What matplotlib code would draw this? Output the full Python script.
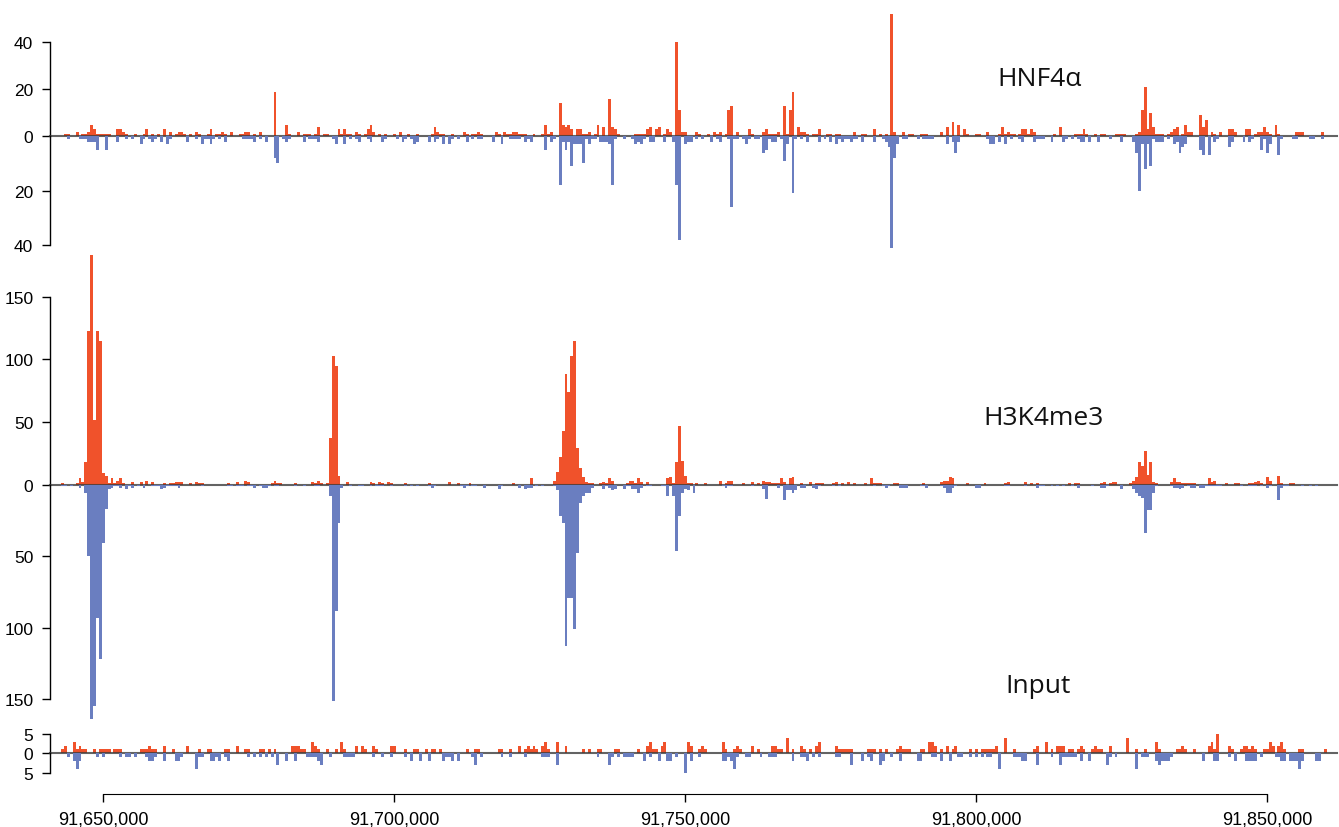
import numpy as np
import matplotlib
matplotlib.use("Agg")
import matplotlib.pyplot as plt
from matplotlib.ticker import FuncFormatter

W, H, DPI = 1339, 828, 100
START = 91_642_750
BIN = 500
NBINS = 435

# ---- read counts per 500-bp bin (bin index : count) ----
HNF_POS = {1:1, 2:1, 5:2, 7:1, 8:1, 9:2, 10:5, 11:3, 12:1, 13:1, 14:1, 15:1, 16:1, 19:3, 20:3, 21:2, 22:1, 25:1, 28:1, 29:3,
           31:1, 33:1, 35:3, 37:2, 39:1, 40:2, 41:2, 42:1, 44:1, 46:2, 47:1, 50:1, 51:3, 53:1, 54:1, 55:2, 56:1, 58:2, 61:1,
           62:1, 63:2, 64:2, 66:1, 68:2, 73:19, 77:5, 78:1, 81:2, 83:1, 84:1, 85:1, 87:1, 88:4, 90:1, 91:1, 95:3, 96:1, 97:3,
           98:1, 99:1, 101:2, 102:1, 104:1, 105:3, 106:5, 107:2, 109:1, 111:1, 114:1, 116:2, 119:1, 122:1, 127:1, 128:4,
           129:2, 130:1, 131:1, 134:1, 138:2, 139:1, 141:1, 142:1, 143:2, 144:1,
           149:2, 150:1, 152:2, 153:1, 154:1, 155:2, 156:2, 157:1, 158:1, 159:1, 162:1, 165:1, 166:5, 167:1, 168:2, 171:14,
           172:5, 173:4, 174:5, 175:3, 177:3, 178:3, 179:1, 180:1, 181:2, 183:1, 184:5, 186:4, 188:16, 189:4, 190:3, 191:1,
           197:1, 198:1, 199:1, 200:1, 201:3, 202:4, 204:3, 205:4, 207:1, 208:3, 209:2, 211:40, 212:11, 213:2, 214:2, 218:2,
           219:1, 222:1, 224:2, 225:1, 226:2, 228:1, 229:11, 230:13, 232:2, 236:3, 237:1, 241:2, 242:3, 243:1, 244:1, 245:1,
           246:2, 248:13, 249:1, 250:11, 251:19, 253:4, 254:2, 255:2, 256:1, 258:1, 259:1, 260:3, 263:1, 264:1, 266:1, 267:1,
           272:2, 275:1, 276:1, 279:3, 281:1, 283:1, 285:52, 286:2, 289:2, 291:1, 292:1, 295:1, 296:1, 297:1,
           302:2, 304:4, 306:6, 308:5, 310:3, 311:1, 314:1, 315:1, 318:2, 322:1, 323:4, 324:1, 325:2, 326:1, 327:1, 329:1,
           330:3, 331:3, 332:1, 333:3, 334:2, 341:1, 343:4, 348:1, 349:1, 350:1, 351:3, 352:1, 355:1, 357:1, 358:1, 362:1,
           363:1, 364:1, 365:1, 369:1, 370:2, 371:11, 372:21, 373:3, 374:10, 375:4, 376:1, 377:1, 378:1, 380:1, 381:2, 382:3,
           383:4, 385:1, 386:5, 387:2, 388:2, 391:9, 392:4, 393:7, 395:2, 396:1, 398:2, 401:3, 402:3, 403:2, 407:3, 408:3,
           410:1, 411:2, 412:2, 413:4, 414:2, 415:1, 417:5, 418:1, 424:2, 425:2, 426:2, 433:2}
HNF_NEG = {2:1, 6:1, 7:1, 8:1, 9:2, 10:2, 11:2, 12:5, 15:5, 19:2, 22:1, 24:1, 27:3, 28:1, 30:1, 31:2, 32:1, 34:2, 36:3, 37:1,
           43:2, 46:1, 48:3, 49:1, 50:1, 51:3, 52:1, 54:1, 56:2, 62:1, 63:1, 64:1, 65:1, 66:2, 68:1, 70:2, 73:8, 74:10, 76:1,
           77:2, 78:1, 83:2, 85:1, 86:1, 87:1, 88:2, 93:1, 94:3, 97:3, 99:1, 101:1, 102:2, 105:1, 106:2, 110:2, 111:1, 115:1,
           117:2, 118:1, 120:1, 121:3, 122:2, 126:2, 128:2, 129:1, 131:3, 133:3, 134:1, 136:1, 139:2, 141:1, 143:1, 144:1,
           148:2, 151:3, 154:1, 155:1, 156:1, 157:1, 159:2, 160:1, 161:2, 166:5, 168:2, 169:1, 171:18, 172:2, 173:5, 174:2,
           175:11, 176:3, 177:3, 178:3, 179:10, 180:1, 181:3, 182:1, 183:1, 185:2, 186:2, 187:2, 188:3, 189:18, 190:1, 193:1,
           196:1, 197:3, 198:2, 199:3, 200:1, 202:2, 203:2, 207:2, 210:2, 211:18, 212:38, 214:3, 215:2, 216:2, 218:1, 220:1,
           223:2, 225:1, 226:2, 229:1, 230:26, 231:1, 232:1, 234:1, 235:3, 236:1, 238:1, 239:1, 241:6, 242:5, 243:1, 244:2,
           245:2, 247:1, 248:9, 249:3, 251:21, 252:1, 254:1, 256:2, 260:2, 262:1, 264:2, 266:3, 267:1, 268:2, 269:1, 270:1,
           271:2, 272:1, 273:1, 275:2, 279:2, 282:1, 283:2, 284:4, 285:41, 286:8, 287:3, 289:1, 290:1, 294:1, 296:1, 297:1,
           298:1, 299:1, 304:3, 306:2, 307:6, 308:2, 318:1, 319:3, 320:3, 322:2, 324:3, 326:1, 329:1, 330:2, 334:2, 335:1,
           336:1, 337:1, 340:2, 344:2, 345:1, 347:1, 349:1, 350:2, 351:2, 353:2, 356:2, 360:1, 364:2, 368:2, 369:6, 370:20,
           371:3, 372:12, 373:3, 374:11, 375:1, 376:2, 377:2, 378:2, 380:1, 382:3, 383:2, 384:6, 385:4, 386:3, 391:5, 392:7,
           394:7, 396:2, 397:1, 401:4, 402:2, 406:2, 408:2, 409:1, 412:5, 413:1, 414:6, 415:3, 418:7, 419:1, 423:1, 424:1,
           429:1, 430:1, 433:1}
H3K_POS = {0:1, 5:1, 6:5, 7:2, 8:18, 9:123, 10:183, 11:52, 12:123, 13:115, 14:9, 15:7, 16:1, 17:5, 18:1, 19:3, 20:5, 21:1,
           24:2, 27:2, 29:3, 31:2, 35:1, 37:1, 38:1, 39:2, 40:2, 41:2, 44:1, 46:2, 47:1, 48:1, 57:1, 60:2, 63:3, 64:2, 72:1,
           73:3, 74:1, 75:1, 80:1, 86:2, 87:1, 88:3, 89:1, 91:1, 92:37, 93:103, 94:95, 95:7, 98:2, 106:2, 107:1, 109:2, 110:1,
           112:2, 113:1, 118:1, 126:1, 133:2, 136:1, 140:1,
           155:1, 161:5, 169:3, 170:10, 171:22, 172:43, 173:88, 174:74, 175:103, 176:115, 177:29, 178:13, 179:6, 180:2,
           181:1, 182:1, 185:1, 186:2, 187:1, 188:5, 189:3, 194:1, 195:3, 196:3, 197:1, 198:5, 199:2, 201:2, 208:5, 209:6,
           210:1, 211:18, 212:47, 213:19, 214:7, 215:1, 216:1, 218:1, 221:1, 226:3, 228:1, 229:3, 230:3, 234:1, 237:2, 239:1,
           241:3, 242:2, 243:2, 244:1, 245:1, 246:1, 247:5, 248:2, 250:5, 251:6, 254:1, 257:2, 259:1, 260:1, 261:1, 265:1,
           266:2, 268:1, 270:2, 272:1, 276:1, 278:5, 279:1, 280:1, 281:1, 286:1, 287:1, 296:1,
           302:2, 303:3, 304:3, 305:6, 306:5, 311:1, 317:1, 324:1, 325:2, 331:2, 333:1, 335:1, 346:1, 348:1, 349:1, 357:1,
           358:2, 360:1, 361:2, 362:2, 367:1, 368:3, 369:6, 370:18, 371:15, 372:27, 373:8, 374:18, 375:2, 376:1, 381:2, 382:5,
           383:2, 384:2, 385:1, 386:1, 387:1, 388:1, 389:1, 394:5, 395:2, 396:3, 400:1, 403:1, 404:1, 408:1, 409:1, 410:2,
           411:3, 412:1, 414:6, 415:3, 418:7, 419:1, 422:1, 423:1}
H3K_NEG = {0:1, 1:1, 3:1, 6:2, 8:6, 9:50, 10:164, 11:155, 12:93, 13:122, 14:41, 15:17, 16:3, 17:2, 18:1, 19:1, 20:2, 22:3,
           23:1, 24:2, 26:1, 28:2, 31:1, 32:1, 33:1, 34:3, 35:2, 36:1, 37:1, 38:1, 39:1, 40:2, 48:1, 57:1, 58:1, 60:1, 61:1,
           62:1, 64:1, 65:1, 66:2, 68:1, 69:2, 70:2, 71:1, 73:1, 74:1, 80:1, 83:1, 87:1, 88:1, 92:8, 93:151, 94:88, 95:27,
           96:2, 99:1, 102:1, 103:1, 106:1, 108:1, 109:1, 110:1, 113:1, 118:1, 120:1, 122:1, 126:1, 127:2, 128:1, 137:1,
           138:2, 139:1, 141:1, 142:1, 145:2,
           150:3, 151:1, 157:2, 159:3, 160:2, 161:2, 163:1, 165:1, 169:1, 170:4, 171:22, 172:27, 173:113, 174:79, 175:79,
           176:101, 177:48, 178:13, 179:8, 180:6, 181:6, 182:2, 186:3, 187:1, 188:2, 189:4, 190:3, 193:3, 194:1, 195:1, 196:3,
           197:3, 198:6, 199:2, 201:1, 202:1, 206:1, 207:1, 208:8, 210:8, 211:46, 212:22, 213:6, 214:3, 215:4, 217:6, 227:1,
           228:2, 229:1, 230:1, 237:1, 241:3, 242:10, 246:2, 248:11, 249:4, 250:4, 251:6, 252:4, 254:2, 255:2, 258:2, 259:3,
           260:1, 265:1, 267:1, 279:1, 282:1, 283:2, 284:1, 288:2, 289:2, 290:2, 295:1, 296:1, 297:2,
           302:1, 303:2, 304:6, 305:6, 306:2, 307:1, 314:2, 315:2, 324:1, 325:1, 331:1, 335:2, 336:1, 337:1, 340:1, 342:1,
           344:1, 347:1, 349:2, 354:1, 357:2, 358:2, 359:1, 364:3, 368:3, 369:6, 370:8, 371:9, 372:34, 373:18, 374:18, 375:6,
           376:1, 381:1, 382:2, 383:2, 384:3, 385:2, 387:1, 388:2, 389:2, 391:2, 392:2, 393:1, 394:1, 395:1, 396:1, 397:1,
           398:1, 405:1, 408:1, 409:1, 410:1, 412:1, 414:2, 415:1, 418:11, 419:2, 420:1, 421:1, 426:1, 429:1, 431:1}
INP_POS = {0:1, 1:2, 4:3, 5:1, 6:2, 7:1, 8:1, 11:1, 13:1, 14:1, 15:1, 16:1, 18:1, 19:1, 20:1, 27:1, 28:1, 29:1, 30:2, 31:1,
           32:1, 35:2, 38:1, 43:2, 47:1, 50:1, 51:1, 56:1, 57:1, 60:2, 63:1, 64:1, 68:1, 69:1, 71:1, 73:1, 79:2, 80:2, 81:2,
           82:1, 83:1, 86:3, 87:2, 88:1, 91:1, 94:1, 96:3, 97:1, 101:2, 103:2, 104:1, 107:2, 108:1, 113:2, 114:2, 118:1,
           121:1, 122:1, 125:1, 127:1, 128:1, 130:1,
           139:1, 142:1, 143:1, 150:1, 151:1, 154:1, 157:2, 159:1, 160:2, 161:1, 162:2, 163:1, 165:2, 166:3, 167:1, 170:3,
           173:2, 179:1, 181:1, 184:1, 185:1, 190:1, 191:1, 198:1, 201:2, 202:3, 203:1, 204:1, 206:2, 207:3, 215:3, 216:2,
           219:1, 220:2, 221:1, 227:3, 228:1, 231:1, 232:2, 233:1, 237:2, 239:1, 244:2, 245:2, 246:1, 247:1, 249:4, 251:1,
           254:2, 255:1, 257:1, 259:2, 260:3, 266:2, 267:1, 268:1, 269:1, 270:1, 271:1, 277:1, 278:1, 279:1, 281:1, 283:1,
           287:1, 288:2, 289:1, 290:1, 291:1, 295:1, 296:1, 298:3, 299:3, 300:2, 302:1, 304:2, 306:1, 307:2, 312:1, 314:1,
           316:1, 317:1, 318:1, 319:1, 320:1, 321:2, 324:4, 327:1, 334:1, 335:2, 338:3, 340:1, 342:2, 343:2, 344:2, 346:1,
           347:1, 349:1, 350:2, 351:1, 354:1, 355:2, 356:1, 357:1, 360:2, 366:4, 369:1, 372:1, 376:3, 377:1, 383:1, 384:1,
           385:2, 386:1, 389:1, 394:2, 395:3, 396:1, 397:5, 401:2, 402:1, 405:1, 406:2, 407:2, 408:1, 409:2, 410:1, 413:1,
           414:1, 415:3, 416:2, 418:2, 419:3, 420:1, 425:1, 426:1, 434:1}
INP_NEG = {2:1, 4:2, 5:4, 6:2, 12:1, 14:1, 20:1, 22:1, 23:1, 25:1, 29:1, 30:2, 31:2, 32:1, 35:2, 39:2, 40:2, 41:1, 46:4,
           47:1, 48:1, 51:2, 52:2, 53:1, 54:2, 56:1, 57:2, 64:1, 66:1, 68:1, 70:1, 72:1, 74:3, 77:2, 80:2, 84:1, 85:1, 86:1,
           87:1, 88:2, 89:3, 92:1, 97:1, 98:1, 99:1, 100:1, 107:1, 110:1, 113:1, 118:1, 120:2, 123:2, 126:2, 131:2,
           132:1, 133:1, 134:2, 136:2, 141:1, 142:3, 144:1, 151:1, 154:1, 159:1, 165:1, 166:1, 167:1, 170:3, 184:1, 188:3,
           189:1, 191:1, 193:1, 194:1, 195:1, 196:1, 200:2, 202:1, 205:2, 208:2, 209:2, 211:1, 214:5, 216:2, 219:1, 227:2,
           228:2, 229:1, 230:2, 231:4, 232:1, 235:1, 236:1, 240:1, 243:1, 244:1, 245:1, 251:2, 254:1, 255:1, 256:2, 258:1,
           260:1, 266:1, 267:1, 271:3, 275:2, 277:1, 278:2, 281:3, 282:2, 285:1,
           288:2, 294:2, 295:2, 299:1, 300:1, 302:2, 305:2, 308:1, 309:1, 312:1, 314:1, 316:1, 318:1, 319:1, 322:4, 327:1,
           328:1, 329:1, 330:2, 331:2, 335:3, 340:1, 343:3, 344:1, 345:1, 346:1, 347:1, 348:1, 350:2, 353:2, 359:3, 360:1,
           362:1, 369:4, 371:1, 372:1, 373:1, 376:2, 377:3, 378:2, 379:2, 380:2, 381:1, 392:2, 396:2, 397:2, 401:1, 403:2,
           407:2, 408:2, 409:2, 410:2, 412:1, 417:1, 418:1, 419:2, 420:2, 422:2, 423:2, 424:2, 425:4, 426:2, 431:2, 432:2}

TRACK_NAMES = ["HNF4\u03b1", "H3K4me3", "Input"]
X_TICKS = [91_650_000, 91_700_000, 91_750_000, 91_800_000, 91_850_000]

ORANGE = "#F0522B"
BLUE = "#6A7EC0"
FONT = "Liberation Sans"


def dense(d):
    a = np.zeros(NBINS)
    for k, v in d.items():
        a[k] = v
    return a


xs = START + BIN * np.arange(NBINS)
XMIN, XMAX = 91_640_842, 91_861_976
LEFT_PX, RIGHT_PX = 50, 1337

fig = plt.figure(figsize=(W / DPI, H / DPI), dpi=DPI)


def add_ax(top, bottom):
    return fig.add_axes([LEFT_PX / W, 1 - bottom / H, (RIGHT_PX - LEFT_PX) / W, (bottom - top) / H])


def style(ax, ticks, bound):
    for s in ("top", "right", "bottom"):
        ax.spines[s].set_visible(False)
    ax.spines["left"].set_bounds(0, bound)
    ax.spines["left"].set_linewidth(1.0)
    ax.set_yticks(ticks)
    ax.set_yticklabels([str(t) for t in ticks], fontfamily=FONT)
    ax.tick_params(axis="y", direction="out", length=6, width=1.0, labelsize=12.5, pad=6)
    ax.set_xticks([])
    ax.set_xlim(XMIN, XMAX)
    ax.patch.set_visible(False)


# panel geometry: zero line pixel, px/unit positive, px/unit negative, limits
panels = [
    (HNF_POS, HNF_NEG, 137.3, 2.35, 2.717, 53, 42, [0, 20, 40], [20, 40], 40),
    (H3K_POS, H3K_NEG, 485.7, 1.2533, 1.4307, 186, 166, [0, 50, 100, 150], [50, 100, 150], 150),
    (INP_POS, INP_NEG, 754.3, 3.86, 3.94, 5.3, 5.3, [0, 5], [5], 5),
]

for pos, neg, zero, sp, sn, lp, ln, tp, tn, bound in panels:
    axt = add_ax(zero - lp * sp, zero)
    axt.bar(xs, dense(pos), width=BIN, align="edge", color=ORANGE, linewidth=0, zorder=2)
    axt.set_ylim(0, lp)
    style(axt, tp, bound)
    axb = add_ax(zero, zero + ln * sn)
    axb.bar(xs, dense(neg), width=BIN, align="edge", color=BLUE, linewidth=0, zorder=2)
    axb.set_ylim(ln, 0)
    style(axb, tn, bound)
    axt.axhline(0, color="#3c3c3c", lw=1.5, alpha=0.8, clip_on=False, zorder=5)

# genomic coordinate axis
axx = fig.add_axes([LEFT_PX / W, 1 - 795 / H, (RIGHT_PX - LEFT_PX) / W, 0.0005])
for s in ("top", "right", "left"):
    axx.spines[s].set_visible(False)
axx.spines["bottom"].set_bounds(X_TICKS[0], X_TICKS[-1])
axx.set_xlim(XMIN, XMAX)
axx.set_yticks([])
axx.set_xticks(X_TICKS)
axx.xaxis.set_major_formatter(FuncFormatter(lambda v, p: f"{int(v):,}"))
axx.tick_params(axis="x", direction="out", length=6, width=1.0, labelsize=13, pad=6)
for lab in axx.get_xticklabels():
    lab.set_fontfamily(FONT)
axx.patch.set_visible(False)

# track labels
for name, xp, yp in zip(TRACK_NAMES, [997, 983, 1005], [86, 425, 693]):
    fig.text(xp / W, 1 - yp / H, name, fontsize=19, fontfamily="Open Sans",
             ha="left", va="baseline", color="#111111")

fig.savefig("out.png", dpi=DPI)
